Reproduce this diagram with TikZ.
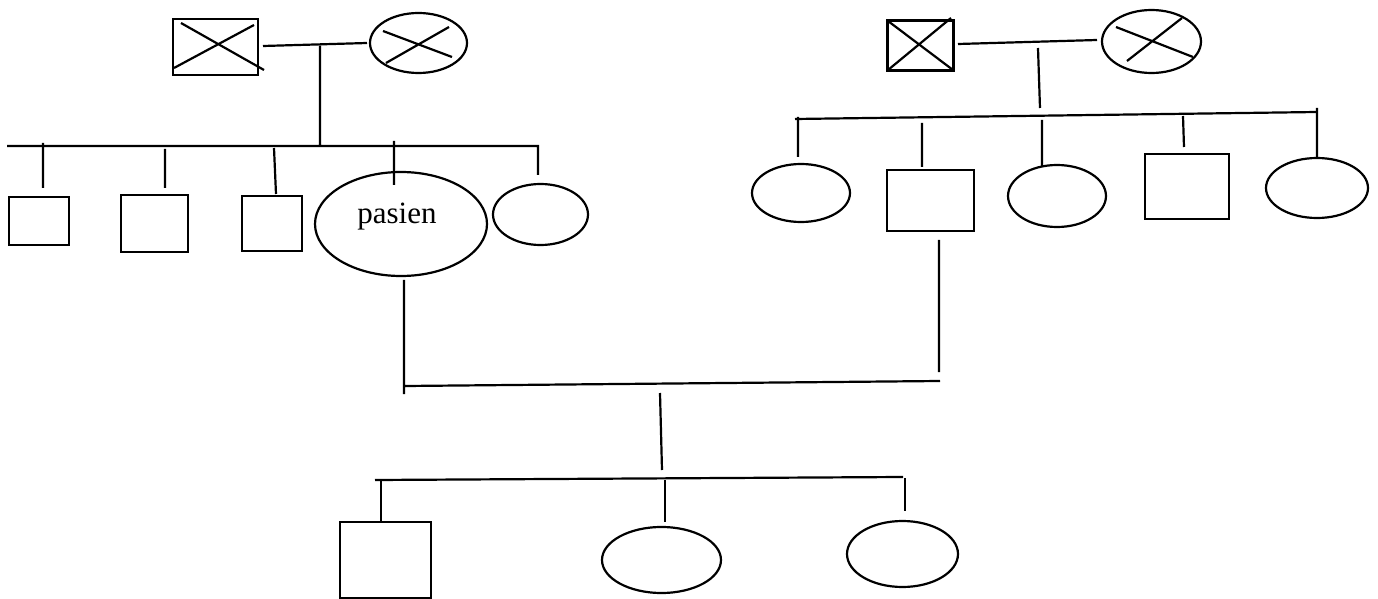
\documentclass[tikz,border=0pt]{standalone}
\usepackage{fontspec}
\setmainfont{Liberation Serif}
\usetikzlibrary{shapes.geometric}
\begin{document}
\begin{tikzpicture}
		[x=0.5pt,y=-0.5pt,line width=1.1pt,
		male/.style={rectangle,draw,inner sep=0pt},
		female/.style={ellipse,draw,inner sep=0pt},
		textstyle/.style={font=\fontsize{15.5pt}{18pt}\selectfont}]
		\useasboundingbox (0,0) rectangle (1378,599);
		\node at (215.5,47) (gf1) [male,minimum width=42.5pt,minimum height=28pt] {};
		\node at (418.5,43) (gm1) [female,minimum width=48.5pt,minimum height=30pt] {};
		\node at (39,221) (a1) [male,minimum width=30pt,minimum height=24pt] {};
		\node at (154.5,223.5) (a2) [male,minimum width=33.5pt,minimum height=28.5pt] {};
		\node at (272,223.5) (a3) [male,minimum width=30pt,minimum height=27.5pt] {};
		\node at (401,224) (a4) [female,minimum width=86pt,minimum height=52pt] {};
		\node at (397,217) (pasien) [textstyle] {pasien};
		\node at (540.5,214.5) (a5) [female,minimum width=47.5pt,minimum height=30.5pt] {};
		\node at (920.5,45.5) (gf2) [male,minimum width=33pt,minimum height=25pt] {};
		\node at (1151.5,41.5) (gm2) [female,minimum width=49.5pt,minimum height=31.5pt] {};
		\node at (801,193) (b1) [female,minimum width=49pt,minimum height=29pt] {};
		\node at (930.5,200.5) (b2) [male,minimum width=43.5pt,minimum height=30.5pt] {};
		\node at (1057,196) (b3) [female,minimum width=49pt,minimum height=31pt] {};
		\node at (1187,186.5) (b4) [male,minimum width=42pt,minimum height=32.5pt] {};
		\node at (1317,188) (b5) [female,minimum width=51pt,minimum height=30pt] {};
		\node at (385.5,560) (c1) [male,minimum width=45.5pt,minimum height=38pt] {};
		\node at (661.5,560) (c2) [female,minimum width=59.5pt,minimum height=33pt] {};
		\node at (902.5,554) (c3) [female,minimum width=55.5pt,minimum height=33pt] {};
		\draw (181,23) -- (264,70) (174,68) -- (254,25);
		\draw (383,31) -- (452,57) (386,63) -- (449,27);
		\draw (888,21) -- (953,70) (888,70) -- (951,18);
		\draw (1116,27) -- (1193,57) (1127,61) -- (1182,18);
		\coordinate (gf1r) at (263,46); \coordinate (gm1l) at (367,43);
		\coordinate (u1) at (320,46); \coordinate (v1) at (320,146);
		\coordinate (h1l) at (7,146); \coordinate (h1r) at (538,146); \coordinate (a5t) at (538,175);
		\coordinate (a1s) at (43,143); \coordinate (a1t) at (43,188);
		\coordinate (a2s) at (165,149); \coordinate (a2t) at (165,188);
		\coordinate (a3s) at (274,148); \coordinate (a3t) at (276,194);
		\coordinate (a4s) at (394,141); \coordinate (a4t) at (394,185);
		\draw (gf1r) -- (gm1l) (u1) -- (v1) (h1l) -- (h1r) -- (a5t);
		\draw (a1s) -- (a1t) (a2s) -- (a2t) (a3s) -- (a3t) (a4s) -- (a4t);
		\coordinate (gf2r) at (958,44); \coordinate (gm2l) at (1097,40);
		\coordinate (u2) at (1038,48); \coordinate (v2) at (1040,108);
		\coordinate (h2l) at (795,119); \coordinate (h2r) at (1317,112);
		\coordinate (b1s) at (798,117); \coordinate (b1t) at (798,157);
		\coordinate (b2s) at (922,123); \coordinate (b2t) at (922,167);
		\coordinate (b3s) at (1042,120); \coordinate (b3t) at (1042,166);
		\coordinate (b4s) at (1183,116); \coordinate (b4t) at (1184,147);
		\coordinate (b5s) at (1317,108); \coordinate (b5t) at (1317,157);
		\draw (gf2r) -- (gm2l) (u2) -- (v2) (h2l) -- (h2r);
		\draw (b1s) -- (b1t) (b2s) -- (b2t) (b3s) -- (b3t) (b4s) -- (b4t) (b5s) -- (b5t);
		\coordinate (p1) at (404,280); \coordinate (p2) at (404,394);
		\coordinate (f1) at (939,240); \coordinate (f2) at (939,372);
		\coordinate (ml) at (405,386); \coordinate (mr) at (940,381);
		\coordinate (u3) at (660,393); \coordinate (v3) at (662,470);
		\coordinate (h3l) at (375,480); \coordinate (h3r) at (903,477);
		\coordinate (c1s) at (381,480); \coordinate (c1t) at (381,522);
		\coordinate (c2s) at (665,480); \coordinate (c2t) at (665,522);
		\coordinate (c3s) at (905,478); \coordinate (c3t) at (905,511);
		\draw (p1) -- (p2) (f1) -- (f2) (ml) -- (mr) (u3) -- (v3) (h3l) -- (h3r);
		\draw (c1s) -- (c1t) (c2s) -- (c2t) (c3s) -- (c3t);
	\end{tikzpicture}
\end{document}
